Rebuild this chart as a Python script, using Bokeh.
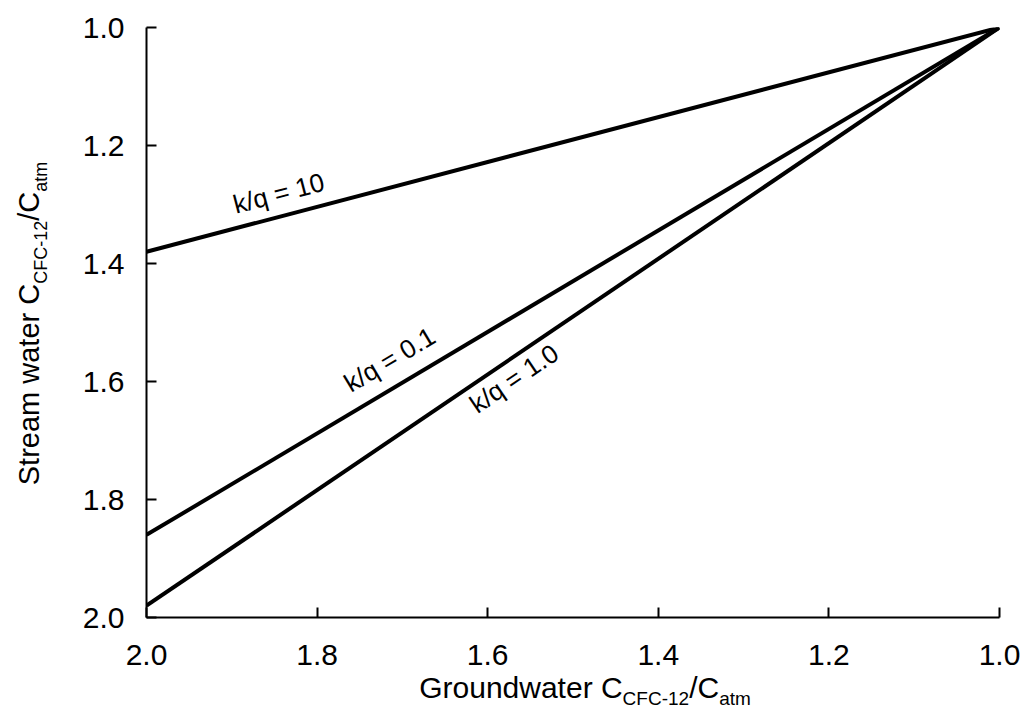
import math

from bokeh.embed import file_html
from bokeh.layouts import column, row
from bokeh.models import FixedTicker, Label, NumeralTickFormatter, Range1d
from bokeh.plotting import figure
from bokeh.resources import INLINE

# Groundwater CFC-12 ratio at the two ends of each line
groundwater = [2.0, 1.0]
# Stream water CFC-12 ratio for each exchange ratio k/q
stream_kq_10 = [1.38, 1.0]
stream_kq_01 = [1.86, 1.0]
stream_kq_1 = [1.98, 1.0]
series_labels = ["k/q = 10", "k/q = 0.1", "k/q = 1.0"]
tick_values = [1.0, 1.2, 1.4, 1.6, 1.8, 2.0]

FONT = "Liberation Sans"
PAGE_W, PAGE_H = 1029, 717

# layout geometry (pixels)
TITLE_W = 60                      # strip holding the vertical axis title
FRAME_L, FRAME_T, FRAME_W, FRAME_H = 146, 27, 853, 590
BOTTOM = 80                       # room below the frame for the x tick labels
MAIN_H = FRAME_T + FRAME_H + BOTTOM
XTITLE_TOP = 667                  # the x-title strip overlaps the unused bottom border
XTITLE_H = PAGE_H - XTITLE_TOP
XTITLE_SHIFT = 9                  # extra height the row adds below the main chart

# Arial-compatible advance widths (units per em = 2048)
ADV = {"G": 1593, "r": 682, "o": 1139, "u": 1139, "n": 1139, "d": 1139,
       "w": 1479, "a": 1139, "t": 569, "e": 1139, " ": 569, "C": 1479,
       "S": 1366, "m": 1706, "F": 1251, "-": 682, "1": 1139, "2": 1139,
       "/": 569}


def text_width(s, size):
    return sum(ADV.get(c, 1139) for c in s) / 2048.0 * size


def blank_strip(w, h, y_top, y_bottom, **kw):
    """A transparent figure with no axes; x in pixels, y in page pixels (downward)."""
    f = figure(width=w, height=h, x_range=Range1d(0, w),
               y_range=Range1d(y_bottom, y_top),
               min_border=0, x_axis_location=None, y_axis_location=None,
               title=None, output_backend="svg", toolbar_location=None, **kw)
    f.outline_line_color = None
    f.background_fill_color = None
    f.border_fill_color = None
    f.xgrid.visible = False
    f.ygrid.visible = False
    return f


# ---- main chart -------------------------------------------------------
p = figure(frame_width=FRAME_W, frame_height=FRAME_H,
           min_border_left=FRAME_L - TITLE_W, min_border_right=PAGE_W - FRAME_L - FRAME_W,
           min_border_top=FRAME_T, min_border_bottom=BOTTOM,
           x_range=Range1d(2.0, 1.0), y_range=Range1d(2.0, 1.0), title=None,
           output_backend="svg", toolbar_location=None)
p.outline_line_color = None
p.xgrid.visible = False
p.ygrid.visible = False

for ax in (p.xaxis[0], p.yaxis[0]):
    ax.ticker = FixedTicker(ticks=tick_values, minor_ticks=[])
    ax.formatter = NumeralTickFormatter(format="0.0")
    ax.major_tick_in = 10
    ax.major_tick_out = 0
    ax.minor_tick_in = 0
    ax.minor_tick_out = 0
    ax.axis_line_width = 2
    ax.axis_line_color = "black"
    ax.major_tick_line_width = 2
    ax.major_tick_line_color = "black"
    ax.major_label_text_font = FONT
    ax.major_label_text_font_size = "30px"
    ax.major_label_text_color = "black"
p.xaxis[0].major_label_standoff = 27
p.yaxis[0].major_label_standoff = 22

series = [stream_kq_10, stream_kq_01, stream_kq_1]
for ys in series:
    p.line(groundwater, ys, line_color="black", line_width=4)

# series labels: placed along each line, rotated to its slope
label_pos = [(1.845, 1.281), (1.715, 1.563), (1.569, 1.595)]
for ys, txt, (lx, ly) in zip(series, series_labels, label_pos):
    dy_px = (ys[0] - ys[1]) * FRAME_H
    dx_px = (groundwater[0] - groundwater[1]) * FRAME_W
    ang = math.atan2(dy_px, dx_px)
    p.add_layout(Label(x=lx, y=ly, text=txt, angle=ang, angle_units="rad",
                       text_align="center", text_baseline="middle",
                       text_font=FONT, text_font_size="26px",
                       text_color="black"))

# ---- axis titles with subscripts, built piece by piece ------------------
# vertical title: its strip's frame lines up with the chart frame, so its
# y data units are page pixels between FRAME_T and FRAME_T + FRAME_H
YMAIN, YSUB = 29, 18
ytitle = blank_strip(TITLE_W, MAIN_H, FRAME_T, FRAME_T + FRAME_H)
y_pieces = [("Stream water C", YMAIN, 0), ("CFC-12", YSUB, 1),
            ("/C", YMAIN, 0), ("atm", YSUB, 1)]
total = sum(text_width(s, sz) for s, sz, _ in y_pieces)
cursor = FRAME_T + FRAME_H / 2 + 1 + total / 2
for s, sz, sub in y_pieces:
    w = text_width(s, sz)
    base = 47 if sub else 39
    ytitle.add_layout(Label(x=base - 0.35 * sz, y=cursor - w / 2, text=s,
                            angle=math.pi / 2, angle_units="rad",
                            text_align="center", text_baseline="middle",
                            text_font=FONT, text_font_size=f"{sz}px",
                            text_color="black"))
    cursor -= w

# horizontal title
XMAIN, XSUB = 30, 19
xtitle = blank_strip(PAGE_W, XTITLE_H, XTITLE_TOP, PAGE_H,
                     margin=(XTITLE_TOP - MAIN_H - XTITLE_SHIFT, 0, 0, 0))
x_pieces = [("Groundwater C", XMAIN, 0), ("CFC-12", XSUB, 1),
            ("/C", XMAIN, 0), ("atm", XSUB, 1)]
total = sum(text_width(s, sz) for s, sz, _ in x_pieces)
cursor = FRAME_L + FRAME_W / 2 + 12 - total / 2
for s, sz, sub in x_pieces:
    base = 707 if sub else 696
    xtitle.add_layout(Label(x=cursor, y=base, text=s,
                            text_align="left", text_baseline="alphabetic",
                            text_font=FONT, text_font_size=f"{sz}px",
                            text_color="black"))
    cursor += text_width(s, sz)

layout = column(row(ytitle, p, spacing=0), xtitle, spacing=0)

open("out.html", "w").write(file_html(layout, INLINE))
